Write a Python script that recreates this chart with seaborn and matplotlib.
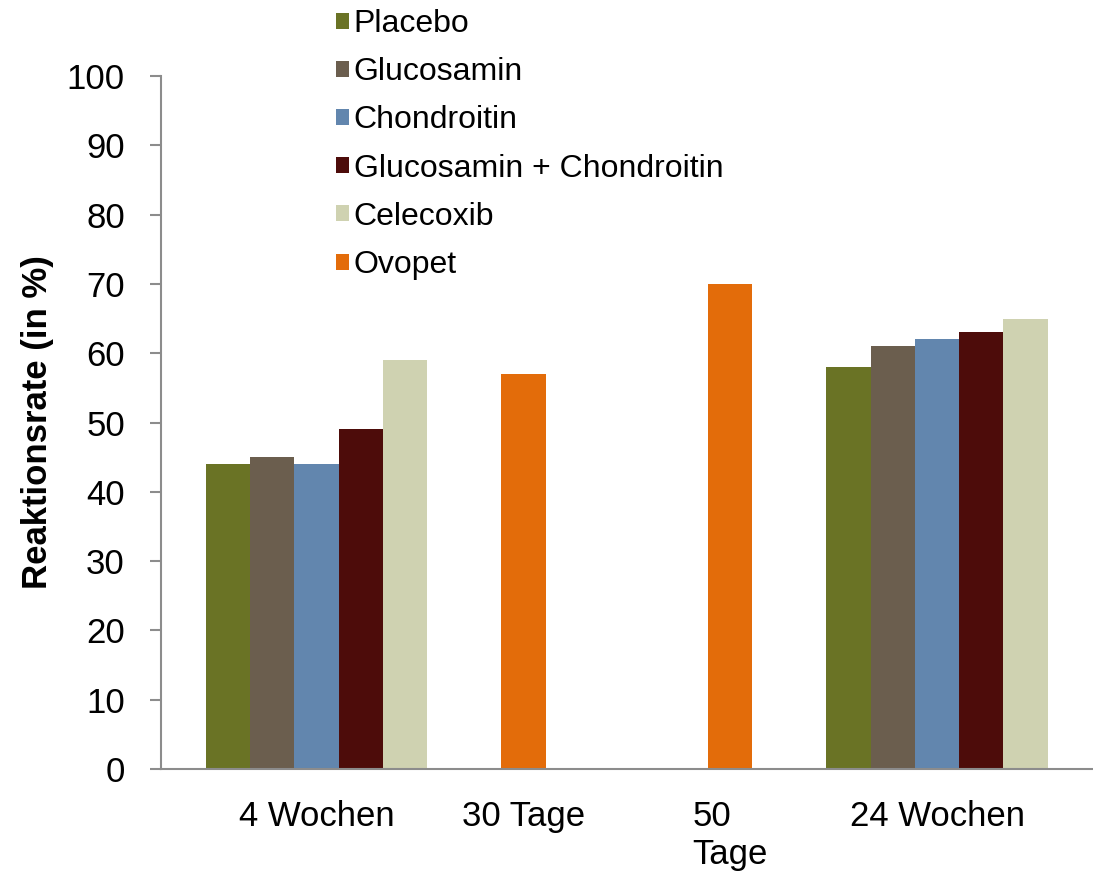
import numpy as np
import pandas as pd
import matplotlib
matplotlib.use("Agg")
import matplotlib.pyplot as plt
import seaborn as sns

# data
categories = ["4 Wochen", "30 Tage", "50\nTage", "24 Wochen"]
series = ["Placebo", "Glucosamin", "Chondroitin", "Glucosamin + Chondroitin", "Celecoxib"]
wochen_4 = [44, 45, 44, 49, 59]
wochen_24 = [58, 61, 62, 63, 65]
ovopet_cats = ["30 Tage", "50\nTage"]
ovopet = [57, 70]

colors = ["#6A7325", "#6B5E4E", "#6286AE", "#4D0C0A", "#CFD2B1"]
ovopet_color = "#E36C0A"

df = pd.DataFrame({
    "Zeit": [categories[0]] * len(series) + [categories[3]] * len(series),
    "Gruppe": series + series,
    "Rate": wochen_4 + wochen_24,
})
df_ovo = pd.DataFrame({"Zeit": ovopet_cats, "Gruppe": ["Ovopet"] * 2, "Rate": ovopet})

sns.set_style("white")
plt.rcParams['font.family'] = ['Liberation Sans', 'DejaVu Sans']
plt.rcParams['text.color'] = 'black'
plt.rcParams['axes.labelcolor'] = 'black'
plt.rcParams['xtick.labelcolor'] = 'black'
plt.rcParams['ytick.labelcolor'] = 'black'

fig = plt.figure(figsize=(10.93, 8.81), dpi=100)
ax = fig.add_axes([0.1473, 0.1271, 0.852, 0.7866])

bar_w = 0.214
sns.barplot(data=df, x="Zeit", y="Rate", hue="Gruppe", order=categories,
            hue_order=series, palette=colors, width=bar_w * len(series),
            linewidth=0, saturation=1, ax=ax)
sns.barplot(data=df_ovo, x="Zeit", y="Rate", hue="Gruppe", order=categories,
            palette={"Ovopet": ovopet_color}, width=bar_w,
            linewidth=0, saturation=1, ax=ax)

# second call's legend already holds all six entries (with duplicates)
leg = ax.get_legend()
handles, labels = [], []
for h, t in zip(leg.legend_handles, leg.get_texts()):
    if t.get_text() not in labels:
        handles.append(h)
        labels.append(t.get_text())

ax.set_xlim(-0.752, 3.75)
ax.set_ylim(0, 100)
ax.set_yticks(np.arange(0, 101, 10))

ax.set_xlabel("")
ax.set_ylabel("Reaktionsrate (in %)", fontsize=25, fontweight="bold", labelpad=9)

for s in ["top", "right"]:
    ax.spines[s].set_visible(False)
for s in ["left", "bottom"]:
    ax.spines[s].set_color("#8C8C8C")
    ax.spines[s].set_linewidth(1.5)

ax.tick_params(axis="y", length=8, width=1.5, color="#8C8C8C", direction="out",
               left=True, labelsize=25, pad=18, labelcolor="black")
ax.tick_params(axis="x", length=0, labelsize=25, pad=22, labelcolor="black")
for lab in ax.get_xticklabels():
    if "\n" in lab.get_text():
        lab.set_multialignment("left")

ax.legend(handles, labels, loc="upper left", bbox_to_anchor=(336 / 1093, 1 - 9 / 881),
          bbox_transform=fig.transFigure, frameon=False, fontsize=23,
          handlelength=0.4, handleheight=0.4, handletextpad=0.15,
          labelspacing=0.57, borderpad=0, borderaxespad=0)

fig.savefig("out.png", dpi=100)
